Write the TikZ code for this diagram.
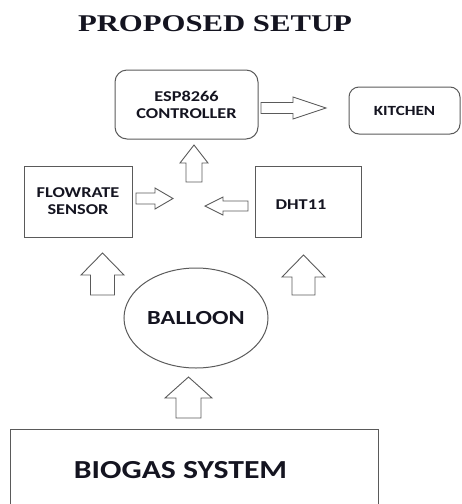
\documentclass[tikz,border=0pt]{standalone}
\usepackage{fontspec}
\newfontfamily\boxfont[FakeStretch=1.22]{Carlito}
\newfontfamily\titlefont[FakeStretch=1.28]{Liberation Serif}
\usetikzlibrary{shapes.geometric}
\definecolor{linegray}{HTML}{5A5A5A}
\definecolor{textcol}{HTML}{141420}
\newcommand\blockarr[6]{%
  \draw[arrowline,shift={(#1)},rotate=#2] (0,-#5) -- (#4,-#5) -- (#4,-#6) -- (#3,0) -- (#4,#6) -- (#4,#5) -- (0,#5) -- cycle;}
\begin{document}
\begin{tikzpicture}[x=1pt,y=-1pt,
  box/.style={draw=linegray, line width=1pt, inner sep=0pt, align=center, text=textcol,
    font=\boxfont\bfseries\fontsize{15}{17}\selectfont},
  rbox/.style={box, rounded corners=12pt},
  arrowline/.style={draw=linegray, line width=0.9pt, line join=miter}]
\useasboundingbox (0,0) rectangle (462,504);
\clip (0,0) rectangle (462,504);
\node[text=textcol, font=\titlefont\bfseries\fontsize{24}{26}\selectfont] (title) at (215,24) {PROPOSED SETUP};
\node[rbox, minimum width=143pt, minimum height=69pt] (esp) at (186.5,104.5) {ESP8266\\CONTROLLER};
\node[rbox, rounded corners=10pt, minimum width=111pt, minimum height=47pt, font=\boxfont\bfseries\fontsize{14}{16}\selectfont] (kitchen) at (404.5,110.5) {KITCHEN};
\node[box, minimum width=108pt, minimum height=71pt] (flow) at (78,201.5) {FLOWRATE\\SENSOR};
\node[box, minimum width=106pt, minimum height=71pt] (dht) at (308,201.5) {};
\node[text=textcol, inner sep=0pt, font=\boxfont\bfseries\fontsize{15}{17}\selectfont] (dhtlabel) at (301,205) {DHT11};
\node[box, ellipse, minimum width=144pt, minimum height=100pt, font=\boxfont\bfseries\fontsize{20}{22}\selectfont] (balloon) at (196,318) {BALLOON};
\node[box, minimum width=368pt, minimum height=100pt, anchor=north west] (biogas) at (10,429) {};
\node[text=textcol, inner sep=0pt, font=\boxfont\bfseries\fontsize{26}{28}\selectfont] (biogaslabel) at (180.5,470) {BIOGAS SYSTEM};
\blockarr{261,108}{0}{65}{32}{5.5}{11}
\blockarr{194,182}{90}{37}{19}{8}{14}
\blockarr{136,198.5}{0}{37}{19}{5.5}{10.5}
\blockarr{248,206}{180}{43}{25}{5}{9}
\blockarr{102.5,295}{90}{42}{20}{12}{21.5}
\blockarr{303.5,295}{90}{40}{18}{11.5}{21.5}
\blockarr{188.5,418}{90}{41}{20}{12.5}{23.5}
\end{tikzpicture}
\end{document}
